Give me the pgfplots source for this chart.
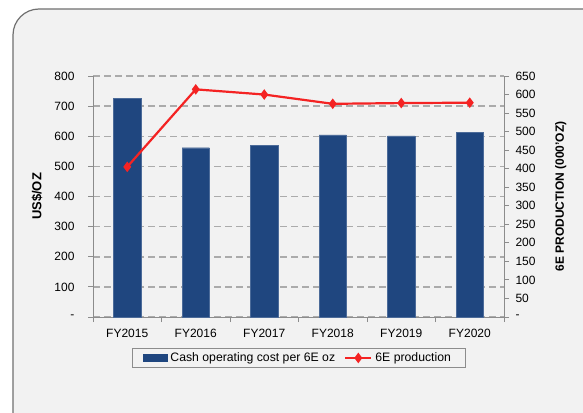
\documentclass[border=0pt]{standalone}
\usepackage{fontspec}
\setmainfont{Liberation Sans}
\usepackage{pgfplots}
\pgfplotsset{compat=1.18}
\definecolor{bg}{HTML}{F2F2F2}
\definecolor{barblue}{HTML}{1F467F}
\definecolor{linered}{HTML}{F42323}
\definecolor{gridgray}{HTML}{ABABAB}
\definecolor{axisgray}{HTML}{8C8C8C}
\begin{document}
\begin{tikzpicture}[x=1bp,y=1bp]
\path[use as bounding box] (0,0) rectangle (583,412);
\clip (0,0) rectangle (583,412);
\fill[white] (0,0) rectangle (583,412);
\draw[axisgray!80!black, line width=1.2bp, fill=bg, rounded corners=26bp] (13,403) rectangle (630,-40);
\begin{axis}[
  at={(93bp,95bp)}, anchor=south west,
  scale only axis, width=411bp, height=241bp,
  xmin=-0.5, xmax=5.5, ymin=0, ymax=800,
  axis lines*=left,
  axis line style={axisgray, line width=1bp},
  xtick={0,...,5},
  xticklabels={FY2015,FY2016,FY2017,FY2018,FY2019,FY2020},
  major x tick style={draw=none},
  minor xtick={-0.5,0.5,...,5.5},
  ytick={0,100,...,800},
  yticklabels={-,100,200,300,400,500,600,700,800},
  tick align=outside,
  tick style={axisgray, line width=1bp},
  major tick length=5bp, minor tick length=5bp,
  ymajorgrids,
  grid style={gridgray, line width=1.5bp, dash pattern=on 7bp off 4bp},
  /pgf/number format/assume math mode=true,
  tick label style={font=\fontsize{12bp}{14bp}\selectfont},
  xticklabel style={yshift=-4bp},
  yticklabel style={xshift=-10bp},
  ylabel={\textbf{US\$/OZ}},
  ylabel style={at={(axis description cs:-0.136,0.5)}, anchor=center, font=\fontsize{13bp}{15bp}\selectfont},
  legend columns=2,
  legend style={at={(0.5,-0.129)}, anchor=north, draw=axisgray, fill=bg,
    font=\fontsize{12.25bp}{14bp}\selectfont, inner xsep=11bp, inner ysep=2.5bp,
    nodes={inner xsep=3bp, inner ysep=2bp},
    /tikz/every even column/.append style={column sep=6bp}},
]
\addplot[ybar, bar width=0.4, fill=barblue, draw=barblue!80!white,
  legend image code/.code={\fill[barblue] (0bp,-3.5bp) rectangle (24bp,3.5bp);}]
  coordinates {(0,725) (1,562) (2,570) (3,605) (4,601) (5,612)};
\addlegendentry{Cash operating cost per 6E oz}
\addlegendimage{linered,
  legend image code/.code={\draw[linered, line width=2.2bp, mark=diamond*, mark size=3.5bp, mark repeat=2, mark phase=2] plot coordinates {(0bp,0bp) (13bp,0bp) (26bp,0bp)};}}
\addlegendentry{6E production}
\end{axis}
\begin{axis}[
  at={(93bp,95bp)}, anchor=south west,
  scale only axis, width=411bp, height=241bp,
  xmin=-0.5, xmax=5.5, ymin=0, ymax=650,
  hide x axis,
  axis y line*=right,
  axis line style={axisgray, line width=1bp},
  ytick={0,50,...,650},
  yticklabels={-,50,100,150,200,250,300,350,400,450,500,550,600,650},
  tick align=outside,
  tick style={axisgray, line width=1bp},
  major tick length=5bp,
  /pgf/number format/assume math mode=true,
  tick label style={font=\fontsize{12bp}{14bp}\selectfont},
  yticklabel style={anchor=west, xshift=3bp},
  ylabel={\textbf{6E PRODUCTION (000'OZ)}},
  ylabel style={at={(axis description cs:1.138,0.5)}, anchor=center, font=\fontsize{12bp}{14bp}\selectfont},
]
\addplot[linered, line width=2.2bp, mark=diamond*, mark size=3.5bp]
  coordinates {(0,405) (1,614) (2,600) (3,575) (4,577) (5,578)};
\end{axis}
\end{tikzpicture}
\end{document}
